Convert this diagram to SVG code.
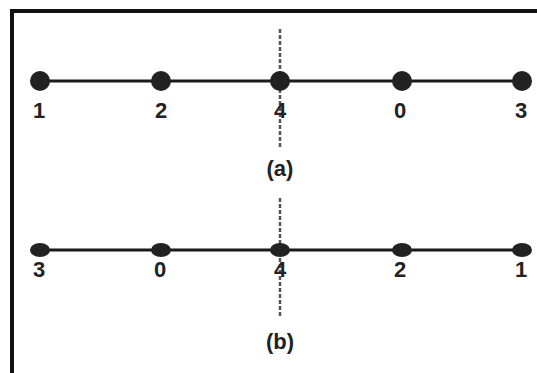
<svg xmlns="http://www.w3.org/2000/svg" width="537" height="373" viewBox="0 0 537 373">
<style>
.lbl{font-family:"Liberation Sans",Arial,sans-serif;font-weight:bold;font-size:22px;fill:#222;text-anchor:middle}
.axis{stroke:#1a1a1a;stroke-width:3;fill:none}
.dash{stroke:#555;stroke-width:2.5;stroke-dasharray:4 2;fill:none}
.dot{fill:#222}
</style>
<rect width="537" height="373" fill="#fff"/>
<g id="frame">
<path d="M12 373 V11 H537" fill="none" stroke="#111" stroke-width="4"/>
</g>
<g id="connectors">
<line class="axis" x1="40" y1="81" x2="522" y2="81"/>
<line class="dash" x1="280" y1="29" x2="280" y2="149"/>
<line class="axis" x1="40" y1="250" x2="522" y2="250"/>
<line class="dash" x1="280" y1="198" x2="280" y2="318"/>
</g>
<g id="a1"><circle class="dot" cx="40" cy="81" r="10"/><text class="lbl" x="39" y="118">1</text></g>
<g id="a2"><circle class="dot" cx="161" cy="81" r="10"/><text class="lbl" x="161" y="118">2</text></g>
<g id="a4"><circle class="dot" cx="280" cy="81" r="10"/><text class="lbl" x="280" y="118">4</text></g>
<g id="a0"><circle class="dot" cx="402" cy="81" r="10"/><text class="lbl" x="400" y="118">0</text></g>
<g id="a3"><circle class="dot" cx="522" cy="81" r="10"/><text class="lbl" x="521" y="118">3</text></g>
<g id="caption-a"><text class="lbl" x="280" y="176">(a)</text></g>
<g id="b3"><ellipse class="dot" cx="40" cy="250" rx="10" ry="7"/><text class="lbl" x="39" y="277">3</text></g>
<g id="b0"><ellipse class="dot" cx="161" cy="250" rx="10" ry="7"/><text class="lbl" x="160" y="277">0</text></g>
<g id="b4"><ellipse class="dot" cx="280" cy="250" rx="10" ry="7"/><text class="lbl" x="280" y="277">4</text></g>
<g id="b2"><ellipse class="dot" cx="402" cy="250" rx="10" ry="7"/><text class="lbl" x="400" y="277">2</text></g>
<g id="b1"><ellipse class="dot" cx="522" cy="250" rx="10" ry="7"/><text class="lbl" x="521" y="277">1</text></g>
<g id="caption-b"><text class="lbl" x="280" y="349">(b)</text></g>
</svg>
